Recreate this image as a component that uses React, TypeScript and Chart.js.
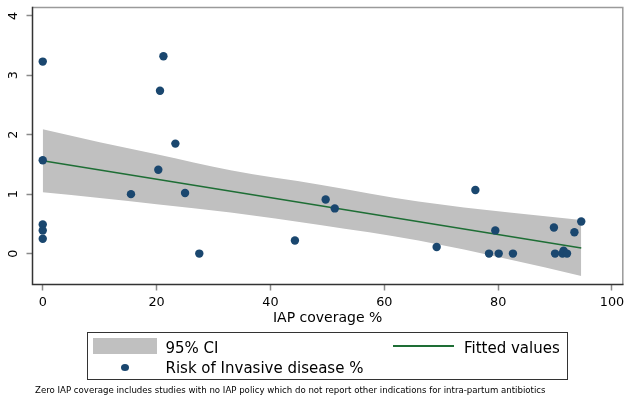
import React, { useEffect, useRef } from 'react';
import Chart from 'chart.js/auto';

// ---- data ----
const coverage = [0, 0, 0, 0, 0, 15.5, 20.3, 20.6, 21.2, 23.3, 25.0, 27.5, 44.3, 49.7, 51.3, 69.2, 76.0, 78.4, 79.5, 80.1, 82.6, 89.8, 90.0, 91.3, 91.5, 92.1, 93.4, 94.6];
const risk = [3.23, 1.57, 0.49, 0.39, 0.25, 1.0, 1.41, 2.74, 3.32, 1.85, 1.02, 0.0, 0.22, 0.91, 0.76, 0.11, 1.07, 0.0, 0.39, 0.0, 0.0, 0.44, 0.0, 0.0, 0.05, 0.0, 0.36, 0.54];
const fitX = [0, 94.6];
const fitY = [1.56, 0.094];
const ciX = [0, 10, 20, 33, 48.7, 66, 82, 94.6];
const ciUpper = [2.09, 1.875, 1.67, 1.4, 1.16, 0.875, 0.69, 0.565];
const ciLower = [1.03, 0.935, 0.83, 0.69, 0.48, 0.22, -0.1, -0.375];
const xTicks = [0, 20, 40, 60, 80, 100];
const yTicks = [0, 1, 2, 3, 4];

const xTitle = 'IAP coverage %';
const legendCI = '95% CI';
const legendFit = 'Fitted values';
const legendRisk = 'Risk of Invasive disease %';
const footnote = 'Zero IAP coverage includes studies with no IAP policy which do not report other indications for intra-partum antibiotics';

const NAVY = '#1a476f';
const GREEN = '#1e6e35';
const BAND = '#c0c0c0';
const FONT = '"DejaVu Sans", "Liberation Sans", Arial, sans-serif';

const framePlugin = {
  id: 'frame',
  afterDatasetsDraw(chart: any) {
    const { ctx, chartArea } = chart;
    const { left, right, top, bottom } = chartArea;
    ctx.save();
    ctx.lineWidth = 1.5;
    ctx.strokeStyle = '#9a9a9a';
    ctx.beginPath();
    ctx.moveTo(left, top);
    ctx.lineTo(right, top);
    ctx.lineTo(right, bottom);
    ctx.stroke();
    ctx.strokeStyle = '#333333';
    ctx.beginPath();
    ctx.moveTo(left, top - 0.75);
    ctx.lineTo(left, bottom);
    ctx.lineTo(right + 0.75, bottom);
    ctx.stroke();
    ctx.restore();
  },
};

export default function App() {
  const ref = useRef<HTMLCanvasElement | null>(null);

  useEffect(() => {
    if (!ref.current) return;
    const chart = new Chart(ref.current, {
      type: 'scatter',
      data: {
        datasets: [
          {
            type: 'scatter',
            label: legendRisk,
            data: coverage.map((x, i) => ({ x, y: risk[i] })),
            pointStyle: 'circle',
            pointRadius: 4.2,
            backgroundColor: NAVY,
            borderWidth: 0,
          },
          {
            type: 'line',
            label: legendFit,
            data: fitX.map((x, i) => ({ x, y: fitY[i] })),
            borderColor: GREEN,
            borderWidth: 1.5,
            pointRadius: 0,
            fill: false,
          },
          {
            type: 'line',
            label: legendCI,
            data: ciX.map((x, i) => ({ x, y: ciUpper[i] })),
            borderColor: 'rgba(0,0,0,0)',
            borderWidth: 0,
            pointRadius: 0,
            cubicInterpolationMode: 'monotone',
            backgroundColor: BAND,
            fill: '+1',
          },
          {
            type: 'line',
            label: legendCI + ' lower',
            data: ciX.map((x, i) => ({ x, y: ciLower[i] })),
            borderColor: 'rgba(0,0,0,0)',
            borderWidth: 0,
            pointRadius: 0,
            cubicInterpolationMode: 'monotone',
            fill: false,
          },
        ] as any,
      },
      options: {
        responsive: false,
        animation: false,
        events: [],
        layout: { padding: { left: 8, top: 7.5, right: 4, bottom: 73.5 } },
        plugins: { legend: { display: false }, tooltip: { enabled: false } },
        scales: {
          x: {
            type: 'linear',
            min: -1.8,
            max: 101.9,
            afterBuildTicks: (s: any) => {
              s.ticks = xTicks.map((v) => ({ value: v }));
            },
            afterFit: (s: any) => {
              s.height = 42;
              s.paddingLeft = 0;
              s.paddingRight = 0;
            },
            ticks: {
              autoSkip: false,
              maxRotation: 0,
              padding: 4.5,
              color: '#000',
              font: { family: FONT, size: 12.8 },
              callback: (v: any) => String(v),
            },
            grid: { drawOnChartArea: false, drawTicks: true, tickLength: 6, tickColor: '#8a8a8a', tickWidth: 1.5 },
            border: { display: false },
            title: { display: true, text: xTitle, color: '#000', font: { family: FONT, size: 14 }, padding: 0 },
          },
          y: {
            type: 'linear',
            min: -0.52,
            max: 4.14,
            afterBuildTicks: (s: any) => {
              s.ticks = yTicks.map((v) => ({ value: v }));
            },
            afterFit: (s: any) => {
              s.width = 24.5;
              s.paddingTop = 0;
              s.paddingBottom = 0;
            },
            ticks: {
              autoSkip: false,
              minRotation: 90,
              maxRotation: 90,
              crossAlign: 'center',
              padding: 9,
              color: '#000',
              font: { family: FONT, size: 12.8 },
              callback: (v: any) => String(v),
            },
            grid: { drawOnChartArea: false, drawTicks: true, tickLength: 6, tickColor: '#8a8a8a', tickWidth: 1.5 },
            border: { display: false },
          },
        },
      } as any,
      plugins: [framePlugin],
    });
    return () => chart.destroy();
  }, []);

  const text = (t: string, left: number, top: number, size: number, lh: number) => (
    <div
      style={{
        position: 'absolute',
        left,
        top,
        fontFamily: FONT,
        fontSize: size,
        lineHeight: lh + 'px',
        color: '#000',
        whiteSpace: 'nowrap',
      }}
    >
      {t}
    </div>
  );

  return (
    <div style={{ position: 'absolute', left: 0, top: 0, width: 627, height: 400, background: '#fff', overflow: 'hidden' }}>
      <canvas ref={ref} width={627} height={400} style={{ position: 'absolute', left: 0, top: 0, width: 627, height: 400 }} />
      <div
        style={{
          position: 'absolute',
          left: 87,
          top: 332,
          width: 481,
          height: 47.5,
          border: '1px solid #333',
          boxSizing: 'border-box',
        }}
      />
      <div style={{ position: 'absolute', left: 93, top: 338, width: 64, height: 15.5, background: BAND }} />
      {text(legendCI, 165.5, 337.5, 15, 20)}
      <div style={{ position: 'absolute', left: 393, top: 345, width: 61, height: 1.5, background: GREEN }} />
      {text(legendFit, 464, 337.5, 15, 20)}
      <div style={{ position: 'absolute', left: 121, top: 364, width: 8, height: 7, borderRadius: '50%', background: NAVY }} />
      {text(legendRisk, 165.5, 358, 15, 20)}
      {text(footnote, 35, 384.5, 8.6, 10)}
    </div>
  );
}
